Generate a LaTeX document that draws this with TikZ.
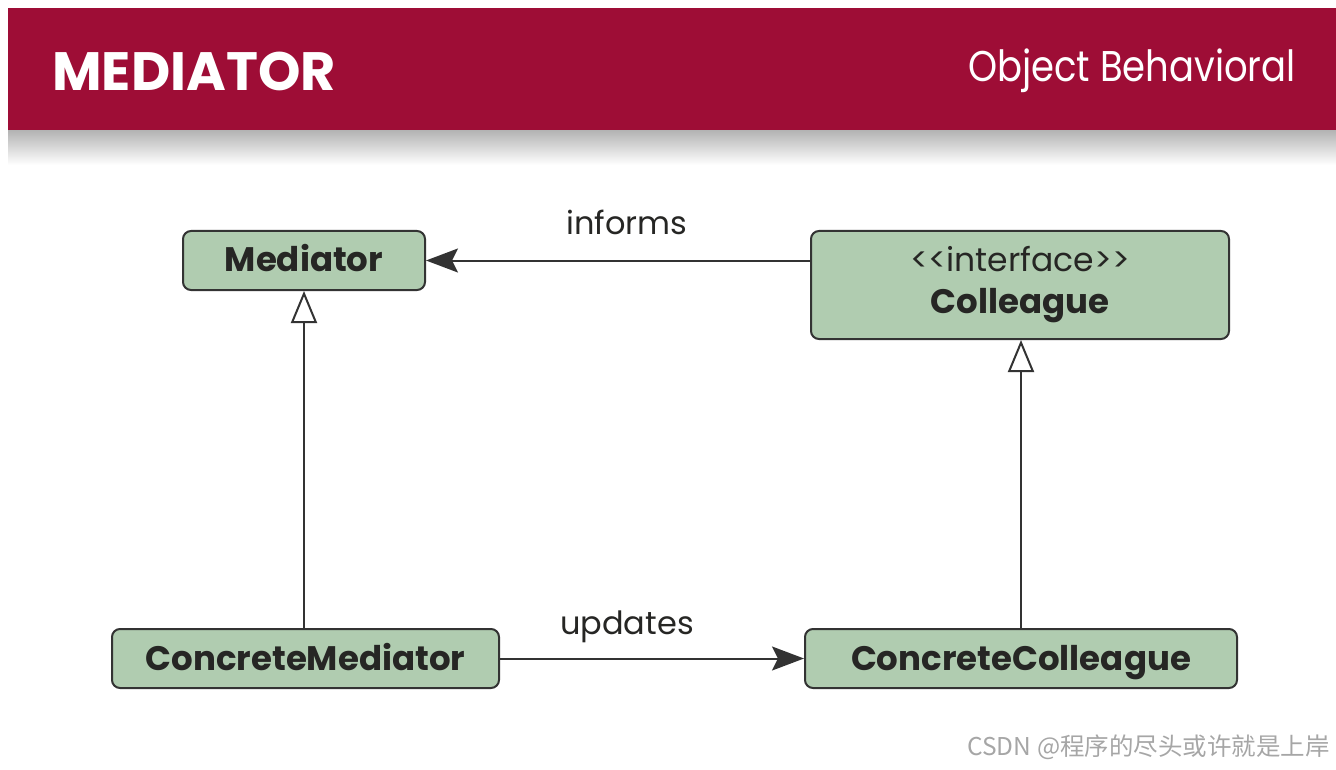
\documentclass[tikz,border=0pt]{standalone}
\usepackage{fontspec}
\setmainfont{Poppins}
\newfontfamily\cjkfont{Noto Sans CJK SC}
\usepackage{tikz}
\usetikzlibrary{positioning,arrows.meta}
\definecolor{colorheader}{RGB}{158,13 ,54 }
\definecolor{colorbox}   {RGB}{176,204,176}
\definecolor{colorline}  {RGB}{51 ,51 ,51 }
\definecolor{colorink}   {RGB}{38 ,38 ,36 }
\newcommand\ltlt{<\kern0pt<}
\newcommand\gtgt{>\kern0pt>}

\begin{document}
\begin{tikzpicture}[
    x=1pt, y=-1pt,
    line width=2pt,
    classbox/.style={draw=colorline,fill=colorbox,rounded corners=8pt,inner sep=0pt,align=center,text=colorink,font={\fontsize{34}{42}\selectfont\bfseries},minimum height=59pt,text height=27pt,text depth=4pt},
    lbl/.style={text=colorink,font={\fontsize{32}{38}\selectfont}},
    assoc/.style={draw=colorline,-{Stealth[length=32pt,width=24pt,inset=6pt]}},
    inherit/.style={draw=colorline,-{Triangle[open,length=32pt,width=26pt,fill=white]}},
]
    \useasboundingbox (0,0) rectangle (1336,770);

    % Header
    \shade[top color=black!30,bottom color=white] (8,130) rectangle (1336,165);
    \fill[colorheader] (8,8) rectangle (1336,130);
    \node[anchor=west,text=white,font={\fontsize{54}{60}\selectfont\bfseries}] at (48,71) (title) {MEDIATOR};
    \node[anchor=east,text=white,font={\fontsize{43}{50}\selectfont}] at (1300,71) (category) {\scalebox{0.86}[1]{Object Behavioral}};

    % Classes
    \node[classbox,minimum width=242pt] at (304,260.5) (mediator) {Mediator};
    \node[classbox,minimum width=418pt,minimum height=108pt,text height=,text depth=] at (1020,285) (colleague) {{\fontsize{33}{40}\selectfont\mdseries \ltlt interface\gtgt}\\Colleague};
    \node[classbox,minimum width=387pt] at (305.5,658.5) (cmediator) {ConcreteMediator};
    \node[classbox,minimum width=432pt] at (1021,658.5) (ccolleague) {ConcreteColleague};

    % Relations
    \draw[assoc] (colleague.west |- mediator.east) -- (mediator.east);
    \draw[assoc] (cmediator.east) -- (ccolleague.west);
    \draw[inherit] (cmediator.north -| mediator.south) -- (mediator.south);
    \draw[inherit] (ccolleague.north) -- (ccolleague.north |- colleague.south);
    \node[lbl] at (627,222) (informs) {informs};
    \node[lbl] at (627,627) (updates) {updates};

    % Watermark
    \node[anchor=east,text=black!35,font={\cjkfont\fontsize{24.5}{28}\selectfont}] at (1334,747) (mark) {CSDN @程序的尽头或许就是上岸};

\end{tikzpicture}
\end{document}
